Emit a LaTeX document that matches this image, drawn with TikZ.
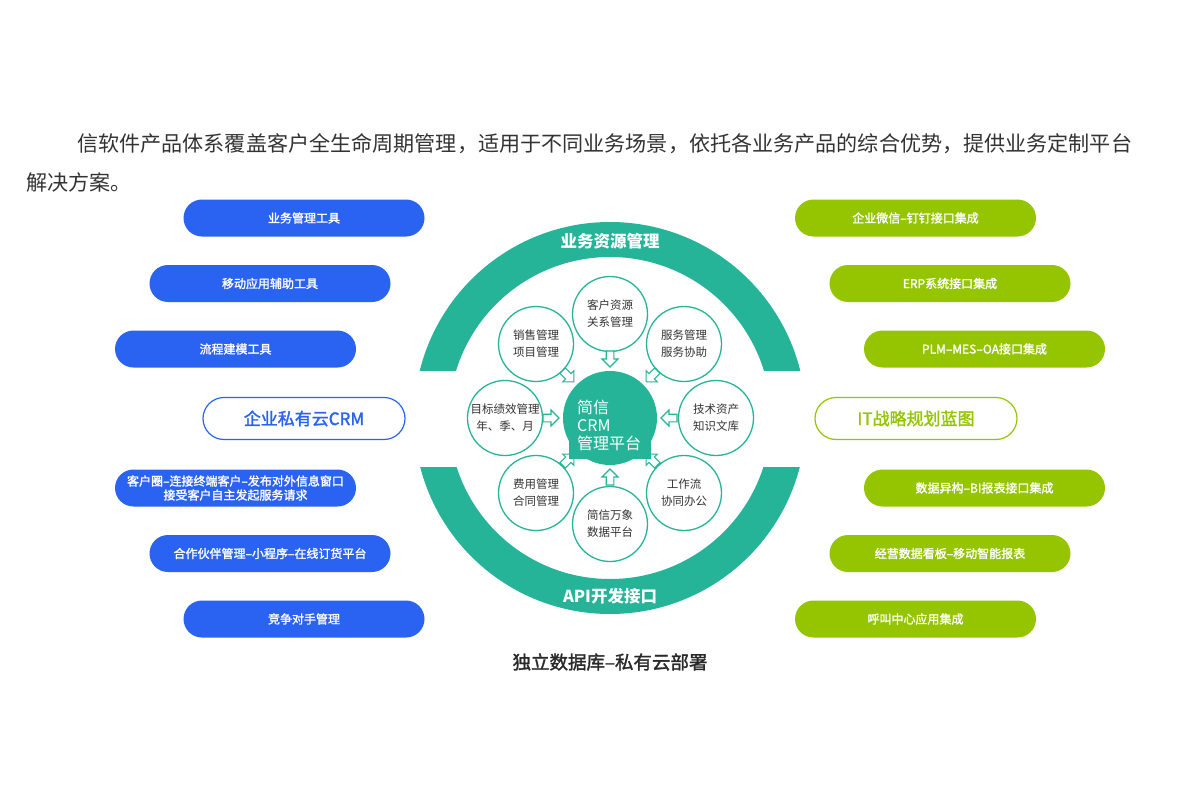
\documentclass[tikz,border=0pt]{standalone}
\usepackage{fontspec}
\setmainfont{Noto Sans CJK SC}
\newfontfamily\medfont[FakeBold=1.6]{Noto Sans CJK SC}
\usetikzlibrary{calc}
\definecolor{teal1}{RGB}{38,180,153}
\definecolor{blue1}{RGB}{42,99,242}
\definecolor{green1}{RGB}{149,197,1}
\definecolor{txt}{RGB}{51,51,51}
\tikzset{
  bluepill/.style={rectangle, rounded corners=18.5pt, minimum width=241pt, minimum height=37pt, fill=blue1, text=white, inner sep=0pt, font=\fontsize{12}{14}\selectfont\medfont, align=center},
  greenpill/.style={bluepill, fill=green1},
  blueline/.style={rectangle, rounded corners=21pt, minimum width=202pt, minimum height=42pt, draw=blue1, line width=1.2pt, fill=white, text=blue1, inner sep=0pt, font=\fontsize{17}{18}\selectfont\medfont},
  greenline/.style={blueline, draw=green1, text=green1},
  smallc/.style={circle, draw=teal1, line width=1.3pt, fill=white, minimum size=75pt, inner sep=0pt, align=center, text=txt, font=\fontsize{11.5}{17}\selectfont},
  ringtxt/.style={text=white, font=\fontsize{16.5}{18}\selectfont\bfseries},
  inarrow/.style={draw=teal1, fill=white, line width=1.1pt, line join=miter},
}
\begin{document}
\begin{tikzpicture}[x=1pt,y=-1pt]
\useasboundingbox[fill=white] (0,0) rectangle (1200,800);
% top paragraph
\node[anchor=west, inner sep=0pt, text=txt, font=\fontsize{21.1}{24}\selectfont] (p1) at (77,144) {信软件产品体系覆盖客户全生命周期管理，适用于不同业务场景，依托各业务产品的综合优势，提供业务定制平台};
\node[anchor=west, inner sep=0pt, text=txt, font=\fontsize{21.1}{24}\selectfont] (p2) at (26,182) {解决方案。};
% rings
\coordinate (C) at (610,418);
\begin{scope}
  \clip (0,0) rectangle (1200,370);
  \fill[teal1, even odd rule] (C) circle (196pt) (C) circle (161pt);
\end{scope}
\begin{scope}
  \clip (0,467) rectangle (1200,800);
  \fill[teal1, even odd rule] (C) circle (196pt) (C) circle (161pt);
\end{scope}
\node[ringtxt] (r1) at (610,241) {业务资源管理};
\node[ringtxt] (r2) at (610,596) {API开发接口};
% small circles
\node[smallc] (s1) at (610,314) {客户资源\\关系管理};
\node[smallc] (s2) at (684,344) {服务管理\\服务协助};
\node[smallc] (s3) at (716,418) {技术资产\\知识文库};
\node[smallc] (s4) at (684,493) {工作流\\协同办公};
\node[smallc] (s5) at (610,524) {简信万象\\数据平台};
\node[smallc] (s6) at (536,493) {费用管理\\合同管理};
\node[smallc] (s7) at (505,418) {目标绩效管理\\年、季、月};
\node[smallc] (s8) at (536,344) {销售管理\\项目管理};
% hollow arrows pointing to the centre
\foreach \a in {0,45,...,315}{
  \begin{scope}[shift={(C)}, rotate=\a]
    \draw[inarrow] (67,-3.8) -- (59,-3.8) -- (59,-8) -- (51,0) -- (59,8) -- (59,3.8) -- (67,3.8) -- cycle;
  \end{scope}
}
% centre platform
\fill[teal1] (C) circle (47pt);
\fill[teal1] (569,430) rectangle (651,459);
\node[anchor=north west, inner sep=0pt, align=left, text=white, font=\fontsize{16}{18}\selectfont] (cc) at (577,400) {简信\\CRM\\管理平台};
% left pills
\node[bluepill] (l1) at (304,218) {业务管理工具};
\node[bluepill] (l2) at (270,283.5) {移动应用辅助工具};
\node[bluepill] (l3) at (235.5,349) {流程建模工具};
\node[blueline] (l4) at (304,418.5) {企业私有云CRM};
\node[bluepill] (l5) at (235.5,488) {客户圈–连接终端客户–发布对外信息窗口\\接受客户自主发起服务请求};
\node[bluepill] (l6) at (270,553.5) {合作伙伴管理–小程序–在线订货平台};
\node[bluepill] (l7) at (304,619) {竞争对手管理};
% right pills
\node[greenpill] (g1) at (915.5,218) {企业微信–钉钉接口集成};
\node[greenpill] (g2) at (950,283.5) {ERP系统接口集成};
\node[greenpill] (g3) at (984.5,349) {PLM–MES–OA接口集成};
\node[greenline] (g4) at (916,418.5) {IT战略规划蓝图};
\node[greenpill] (g5) at (984.5,488) {数据异构–BI报表接口集成};
\node[greenpill] (g6) at (950,553.5) {经营数据看板–移动智能报表};
\node[greenpill] (g7) at (915.5,619) {呼叫中心应用集成};
% bottom caption
\node[text=txt!80!black, font=\fontsize{18.5}{20}\selectfont\medfont] (cap) at (610,662) {独立数据库–私有云部署};
\end{tikzpicture}
\end{document}
